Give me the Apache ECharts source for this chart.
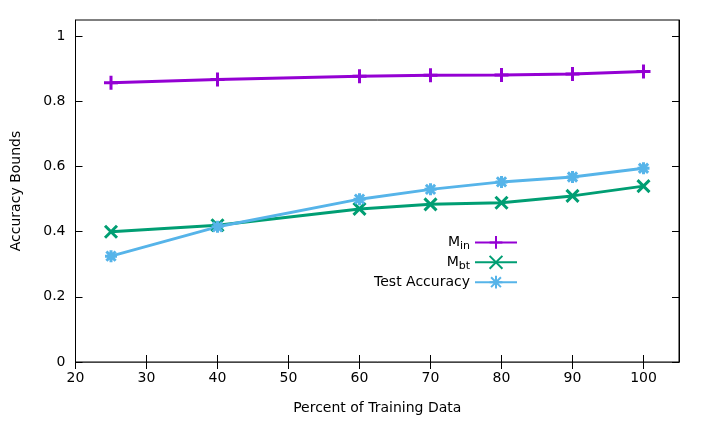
<!DOCTYPE html>
<html><head><meta charset="utf-8">
<script src="https://cdn.jsdelivr.net/npm/echarts@6/dist/echarts.min.js"></script>
<style>html,body{margin:0;padding:0;background:#fff}#c{width:706px;height:424px}</style>
</head><body><div id="c"></div>
<script>
const xValues = [25, 40, 60, 70, 80, 90, 100];
const minValues = [0.857, 0.867, 0.877, 0.880, 0.881, 0.884, 0.892];
const mbtValues = [0.400, 0.420, 0.470, 0.484, 0.489, 0.510, 0.540];
const testValues = [0.325, 0.415, 0.500, 0.530, 0.553, 0.568, 0.595];
const seriesNames = ['Min', 'Mbt', 'Test Accuracy'];
const xTicks = [20, 30, 40, 50, 60, 70, 80, 90, 100];
const yTicks = [0, 0.2, 0.4, 0.6, 0.8, 1];

const FONT = 'DejaVu Sans';
const FS = 14;
const plusPath = 'path://M0,-1L0,1M-1,0L1,0';
const xPath = 'path://M-1,-1L1,1M-1,1L1,-1';
const starPath = 'path://M-1,-1L1,1M-1,1L1,-1M0,-1.3L0,1.3M-1.3,0L1.3,0';

function pairs(v){ return xValues.map((x,i)=>[x, v[i]]); }
function mk(name, data, color, sym, size){
  return {name, type:'line', data:pairs(data), symbol:sym, symbolSize:size,
    lineStyle:{color, width:3}, itemStyle:{color, borderColor:color, borderWidth:3},
    emphasis:{disabled:true}, animation:false, z: 3};
}
const tickStyle = {show:true, inside:true, length:7, lineStyle:{color:'#000'}};
const chart = echarts.init(document.getElementById('c'), null, {renderer:'canvas'});
chart.setOption({
  animation:false,
  grid:{left:75.5, right:27, top:20, bottom:62, show:true, borderColor:'#000', borderWidth:1, backgroundColor:'transparent'},
  xAxis:[{type:'value', min:20, max:105, position:'bottom',
    name:'Percent of Training Data', nameLocation:'middle', nameGap:39,
    nameTextStyle:{fontFamily:FONT, fontSize:FS, color:'#000'},
    axisLine:{show:true, lineStyle:{color:'#000'}},
    axisTick:Object.assign({customValues:xTicks}, tickStyle),
    axisLabel:{fontFamily:FONT, fontSize:FS, color:'#000', margin:9, customValues:xTicks},
    splitLine:{show:false}},
   {type:'value', min:20, max:105, position:'top',
    axisLine:{show:true, lineStyle:{color:'#444'}},
    axisTick:Object.assign({customValues:xTicks}, tickStyle),
    axisLabel:{show:false}, splitLine:{show:false}}],
  yAxis:[{type:'value', min:0, max:1.05,
    name:'Accuracy Bounds', nameLocation:'middle', nameGap:52,
    nameTextStyle:{fontFamily:FONT, fontSize:FS, color:'#000'},
    axisLine:{show:true, lineStyle:{color:'#000'}},
    axisTick:Object.assign({customValues:yTicks}, tickStyle),
    axisLabel:{fontFamily:FONT, fontSize:FS, color:'#000', margin:10, customValues:yTicks,
      formatter:v=>String(Math.round(v*10)/10)},
    splitLine:{show:false}},
   {type:'value', min:0, max:1.05, position:'right',
    axisLine:{show:true, lineStyle:{color:'#000'}},
    axisTick:Object.assign({customValues:yTicks}, tickStyle),
    axisLabel:{show:false}, splitLine:{show:false}}],
  legend:{orient:'vertical', right:183, top:230, align:'right', itemGap:3,
    itemWidth:42, itemHeight:16, selectedMode:false,
    data:seriesNames,
    textStyle:{fontFamily:FONT, fontSize:FS, color:'#000',
      rich:{m:{fontFamily:FONT, fontSize:FS, color:'#000'}, s:{fontFamily:FONT, fontSize:11, color:'#000', verticalAlign:'bottom', padding:[8,0,0,0]}}},
    formatter:n=> n==='Min' ? '{m|M}{s|in}' : n==='Mbt' ? '{m|M}{s|bt}' : n},
  series:[
    mk('Min', minValues, '#9400D3', plusPath, 14),
    mk('Mbt', mbtValues, '#009E73', xPath, 12),
    mk('Test Accuracy', testValues, '#56B4E9', starPath, 12)
  ]
});
</script></body></html>
